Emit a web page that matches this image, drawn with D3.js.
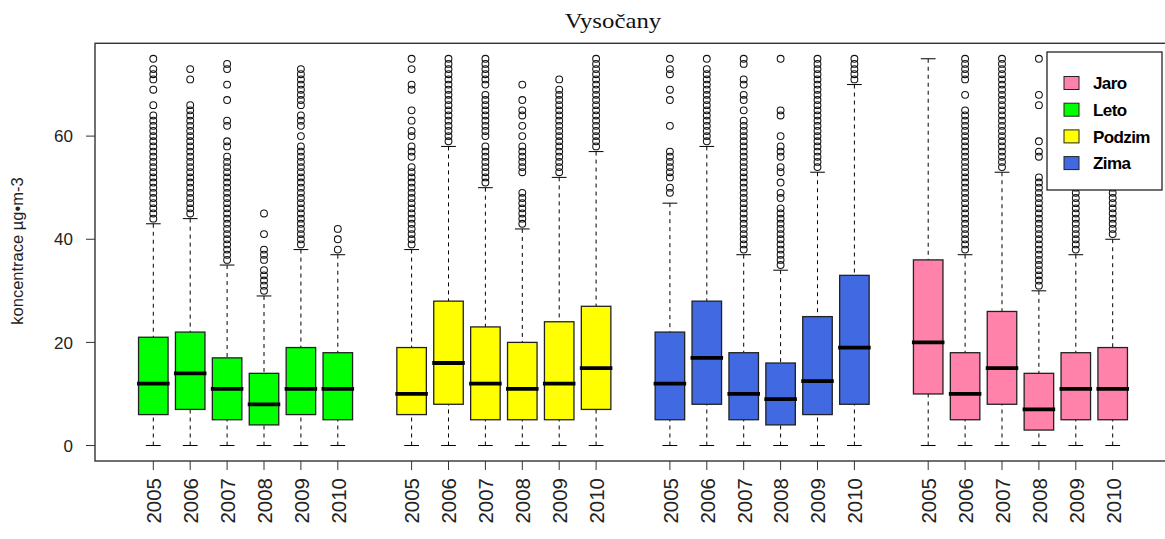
<!DOCTYPE html>
<html><head><meta charset="utf-8">
<script src="https://cdn.jsdelivr.net/npm/d3@7"></script>
<style>body{margin:0;background:#fff}svg{display:block}</style>
</head><body>
<svg id="c" width="1165" height="539"></svg>
<script>
// ---- data ----
const years = ["2005","2006","2007","2008","2009","2010"];
const seasons = ["Leto","Podzim","Zima","Jaro"];
const seasonColors = ["#00FF00","#FFFF00","#4169E1","#FF82AB"];
const legendLabels = ["Jaro","Leto","Podzim","Zima"];
const legendColors = ["#FF82AB","#00FF00","#FFFF00","#4169E1"];
const yTicks = [0,20,40,60];

// [lower whisker, Q1, median, Q3, upper whisker] per year
const letoStats   = [[0,6,12,21,43],[0,7,14,22,44],[0,5,11,17,35],[0,4,8,14,29],[0,6,11,19,38],[0,5,11,18,37]];
const podzimStats = [[0,6,10,19,38],[0,8,16,28,58],[0,5,12,23,50],[0,5,11,20,42],[0,5,12,24,52],[0,7,15,27,57]];
const zimaStats   = [[0,5,12,22,47],[0,8,17,28,58],[0,5,10,18,37],[0,4,9,16,34],[0,6,12.5,25,53],[0,8,19,33,70]];
const jaroStats   = [[0,10,20,36,75],[0,5,10,18,37],[0,8,15,26,53],[0,3,7,14,30],[0,5,11,18,37],[0,5,11,19,40]];

const letoOut = [
 [44,45,46,47,48,49,50,51,52,53,54,55,56,57,58,59,60,61,62,63,64,66,69,71,72,73,75],
 [45,46,47,48,49,50,51,52,53,54,55,56,57,58,59,60,61,62,63,64,65,66,71,73],
 [36,37,38,39,40,41,42,43,44,45,46,47,48,49,50,51,52,53,54,55,56,58,59,62,63,67,70,73,74],
 [30,31,32,33,34,36,37,38,41,45],
 [39,40,41,42,43,44,45,46,47,48,49,50,51,52,53,54,55,56,57,58,60,62,63,64,66,67,68,69,70,71,72,73],
 [38,40,42]
];
const podzimOut = [
 [39,40,41,42,43,44,45,46,47,48,49,50,51,52,53,54,56,57,58,60,61,63,65,69,70,73,75],
 [59,60,61,62,63,64,65,66,67,68,69,70,71,72,73,74,75],
 [51,52,53,54,55,56,57,58,60,61,62,63,64,65,66,67,68,70,71,72,73,74,75],
 [43,44,45,46,47,48,49,53,54,55,56,57,58,60,62,64,65,67,70],
 [53,54,55,56,57,58,59,60,61,62,63,64,65,66,67,68,69,71],
 [58,59,60,61,62,63,64,65,66,67,68,69,70,71,72,73,74,75]
];
const zimaOut = [
 [49,50,52,53,54,55,56,57,62,67,69,72,73,75],
 [59,60,61,62,63,64,65,66,67,68,69,70,71,72,73,75],
 [38,39,40,41,42,43,44,45,46,47,48,49,50,51,52,53,54,55,56,57,58,59,60,61,62,63,65,67,68,70,71,74,75],
 [35,36,37,38,39,40,41,42,43,44,45,46,48,49,51,53,54,56,57,58,60,64,65,75],
 [54,55,56,57,58,59,60,61,62,63,64,65,66,67,68,69,70,71,72,73,74,75],
 [71,72,73,74,75]
];
const jaroOut = [
 [],
 [38,39,40,41,42,43,44,45,46,47,48,49,50,51,52,53,54,55,56,57,58,59,60,61,62,63,64,65,68,71,72,73,74,75],
 [54,55,56,57,58,59,60,61,62,63,64,65,66,67,68,69,70,71,72,73,74,75],
 [31,32,33,34,35,36,37,38,39,40,41,42,43,44,45,46,47,48,49,50,51,52,56,57,59,66,68,75],
 [38,39,40,41,42,43,44,45,46,47,48,49,50,51,52],
 [41,42,43,44,45,46,47,48,49,50,51]
];

const allStats = [letoStats, podzimStats, zimaStats, jaroStats];
const allOut = [letoOut, podzimOut, zimaOut, jaroOut];

// ---- layout ----
const svg = d3.select("#c");
const x = d3.scaleLinear().domain([-0.58, 28.58]).range([95, 1171]);
const y = d3.scaleLinear().domain([-3, 78]).range([461, 43.3]);
const boxHalf = (x(0.4) - x(0));
const capHalf = (x(0.2) - x(0));

const boxes = [];
seasons.forEach((s, si) => {
  years.forEach((yr, yi) => {
    boxes.push({pos: si*7 + yi + 1, year: yr, color: seasonColors[si], st: allStats[si][yi], out: allOut[si][yi]});
  });
});

// frame
svg.append("rect").attr("x", x(-0.58)).attr("y", y(78)).attr("width", x(28.58)-x(-0.58)).attr("height", y(-3)-y(78))
  .attr("fill","none").attr("stroke","#333").attr("stroke-width",1.4);

const g = svg.append("g");
boxes.forEach(b => {
  const cx = x(b.pos);
  const [lo,q1,med,q3,hi] = b.st;
  g.append("line").attr("x1",cx).attr("x2",cx).attr("y1",y(lo)).attr("y2",y(q1))
    .attr("stroke","#000").attr("stroke-dasharray","4,4");
  g.append("line").attr("x1",cx).attr("x2",cx).attr("y1",y(hi)).attr("y2",y(q3))
    .attr("stroke","#000").attr("stroke-dasharray","4,4");
  [lo,hi].forEach(v => g.append("line").attr("x1",cx-capHalf).attr("x2",cx+capHalf).attr("y1",y(v)).attr("y2",y(v)).attr("stroke","#000"));
  g.append("rect").attr("x",cx-boxHalf).attr("y",y(q3)).attr("width",2*boxHalf).attr("height",y(q1)-y(q3))
    .attr("fill",b.color).attr("stroke","#222").attr("stroke-width",1.3);
  g.append("line").attr("x1",cx-boxHalf-1.5).attr("x2",cx+boxHalf+1.5).attr("y1",y(med)).attr("y2",y(med))
    .attr("stroke","#000").attr("stroke-width",3.8);
  b.out.forEach(v => g.append("circle").attr("cx",cx).attr("cy",y(v)).attr("r",3.4)
    .attr("fill","none").attr("stroke","#111").attr("stroke-width",1.05));
});

// y axis
const ya = svg.append("g");
yTicks.forEach(t => {
  ya.append("line").attr("x1",86).attr("x2",95).attr("y1",y(t)).attr("y2",y(t)).attr("stroke","#333");
  ya.append("text").attr("x",73).attr("y",y(t)).attr("dy","0.36em").attr("text-anchor","end")
    .attr("font-family","Liberation Sans, Arial, sans-serif").attr("font-size",17).attr("fill","#222").text(t);
});
svg.append("text").attr("transform","translate(23,251) rotate(-90)").attr("text-anchor","middle")
  .attr("font-family","Liberation Sans, Arial, sans-serif").attr("font-size",16.5).attr("fill","#222")
  .text("koncentrace µg•m-3");

// x axis
const xa = svg.append("g");
boxes.forEach(b => {
  const cx = x(b.pos);
  xa.append("line").attr("x1",cx).attr("x2",cx).attr("y1",461).attr("y2",470).attr("stroke","#333");
  xa.append("text").attr("transform",`translate(${cx+0.5},478) rotate(-90)`).attr("dy","0.36em").attr("text-anchor","end")
    .attr("font-family","Liberation Sans, Arial, sans-serif").attr("font-size",20.5).attr("fill","#222").text(b.year);
});

// title
svg.append("text").attr("transform","translate(613,28) scale(1.18,1)").attr("text-anchor","middle")
  .attr("font-family","Liberation Serif, Times New Roman, serif").attr("font-size",21).attr("fill","#111")
  .text("Vysočany");

// legend
const lg = svg.append("g");
lg.append("rect").attr("x",1047).attr("y",52).attr("width",115).attr("height",138)
  .attr("fill","#fff").attr("stroke","#111").attr("stroke-width",1.2);
legendLabels.forEach((l,i) => {
  const cy = 83 + i*26.7;
  lg.append("rect").attr("x",1064).attr("y",cy-6.5).attr("width",15).attr("height",13)
    .attr("fill",legendColors[i]).attr("stroke","#222").attr("stroke-width",1);
  lg.append("text").attr("x",1093).attr("y",cy).attr("dy","0.36em")
    .attr("font-family","Liberation Sans, Arial, sans-serif").attr("font-weight","bold").attr("font-size",17)
    .attr("letter-spacing","-0.6").attr("fill","#000").text(l);
});
</script>
</body></html>
